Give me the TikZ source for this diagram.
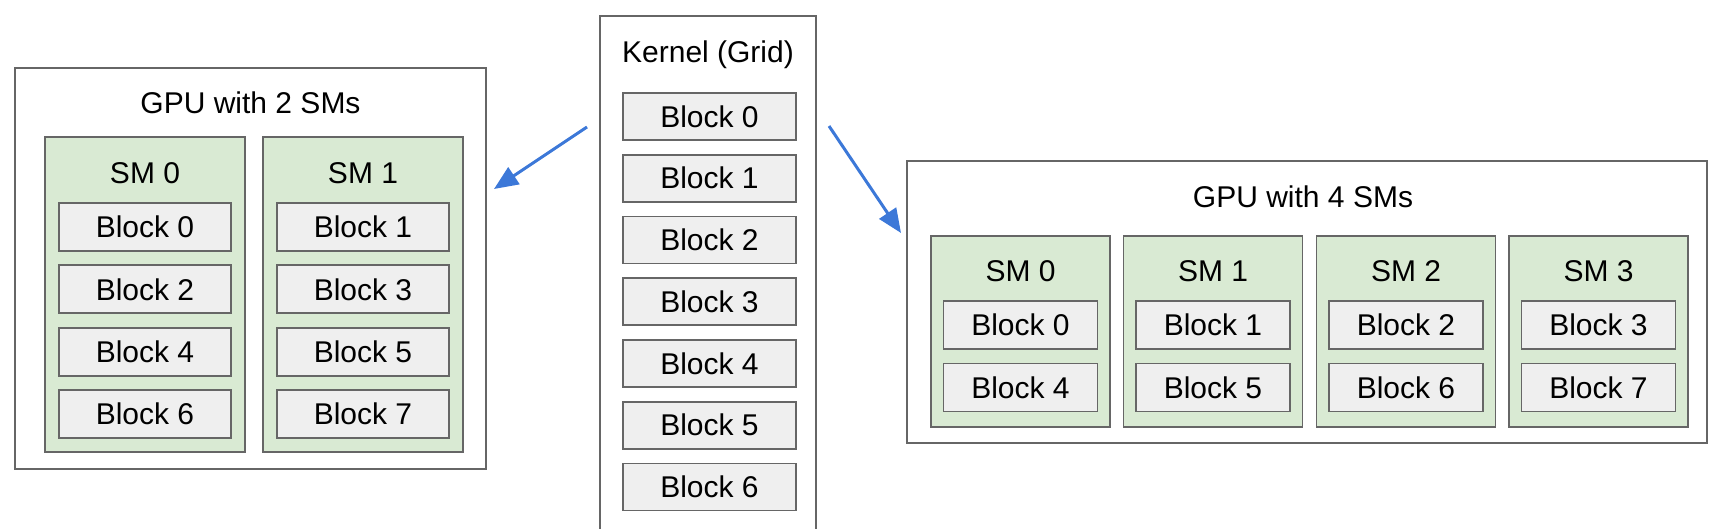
\documentclass[tikz,border=0pt]{standalone}
\usepackage{fontspec}
\setmainfont{Liberation Sans}
\usetikzlibrary{arrows.meta}
\definecolor{linegray}{HTML}{666666}
\definecolor{smgreen}{HTML}{D9EAD3}
\definecolor{blockgray}{HTML}{EFEFEF}
\definecolor{arrowblue}{HTML}{3C78D8}
\begin{document}
\begin{tikzpicture}
[x=1pt, y=-1pt, font={\fontsize{30}{36}\selectfont}]
\tikzstyle{outerbox}=[draw=linegray, line width=1.8pt, fill=white, inner sep=0pt]
\tikzstyle{smbox}=[draw=linegray, line width=1.8pt, fill=smgreen, inner sep=0pt]
\tikzstyle{blockbox}=[draw=linegray, line width=1.8pt, fill=blockgray, inner sep=0pt, minimum height=48pt]
\tikzstyle{flow}=[draw=arrowblue, line width=3pt, -{Triangle[length=24pt, width=20pt]}]
\useasboundingbox (0,0) rectangle (1722,528);

\node[outerbox, minimum width=471pt, minimum height=401pt] (gpu2) at (250.5,268.5) {};
\node (gpu2t) at (250.5,103) {GPU with 2 SMs};
\foreach \s/\cx in {0/145, 1/363} {
  \node[smbox, minimum width=200pt, minimum height=315pt] (g2sm\s) at (\cx,294.5) {};
  \node (g2smt\s) at (\cx,173) {SM \s};
  \foreach \r in {0,...,3} {
    \pgfmathtruncatemacro{\bnum}{2*\r+\s}
    \node[blockbox, minimum width=172pt] (g2b\bnum) at (\cx,{227+62.3*\r}) {Block \bnum};
  }
}

\node[outerbox, minimum width=216pt, minimum height=544pt] (kernel) at (708,288) {};
\node (kernelt) at (708,55) {Kernel (Grid)};
\foreach \k in {0,...,6}
  \node[blockbox, minimum width=173pt, minimum height=47pt] (kb\k) at (709.5,{116.5+61.75*\k}) {Block \k};

\node[outerbox, minimum width=800pt, minimum height=282pt] (gpu4) at (1307,302) {};
\node (gpu4t) at (1303,197) {GPU with 4 SMs};
\foreach \s/\cx in {0/1020.5, 1/1213, 2/1406, 3/1598.5} {
  \node[smbox, minimum width=179pt, minimum height=191pt] (g4sm\s) at (\cx,331.5) {};
  \node (g4smt\s) at (\cx,271) {SM \s};
  \foreach \r in {0,1} {
    \pgfmathtruncatemacro{\bnum}{4*\r+\s}
    \node[blockbox, minimum width=154pt] (g4b\bnum) at (\cx,{325+62.5*\r}) {Block \bnum};
  }
}

\coordinate (leftfrom) at (587,127);
\coordinate (leftto) at (494,189);
\coordinate (rightfrom) at (829,126);
\coordinate (rightto) at (901,233);
\draw[flow] (leftfrom) -- (leftto);
\draw[flow] (rightfrom) -- (rightto);
\end{tikzpicture}
\end{document}
